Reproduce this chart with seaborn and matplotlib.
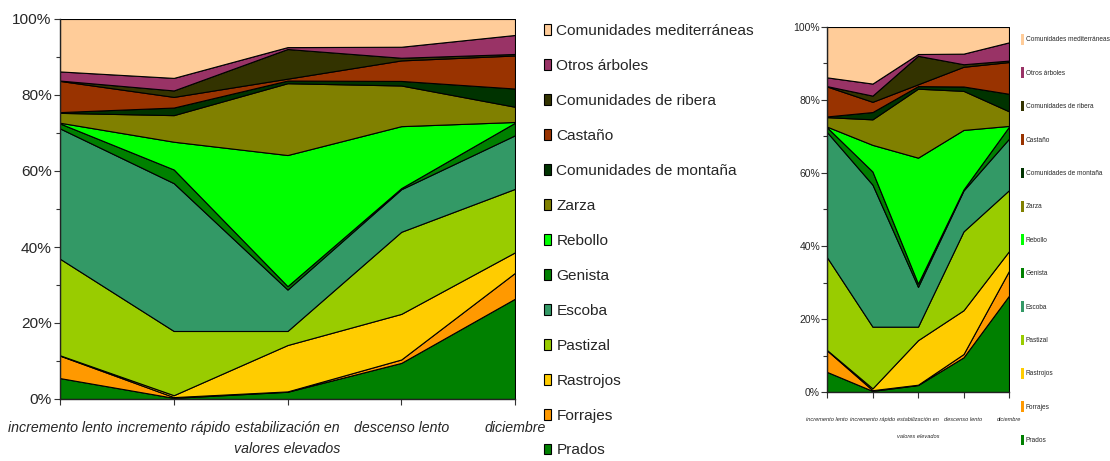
import numpy as np
import matplotlib
matplotlib.use("Agg")
import matplotlib.pyplot as plt
from matplotlib.patches import Patch
from matplotlib.ticker import PercentFormatter, MultipleLocator
from matplotlib import font_manager
import seaborn as sns

# Datos (% de superficie por periodo)
periodos = ["incremento lento", "incremento rápido", "estabilización en\nvalores elevados",
            "descenso lento", "diciembre"]
cubiertas = ["Prados", "Forrajes", "Rastrojos", "Pastizal", "Escoba", "Genista", "Rebollo",
             "Zarza", "Comunidades de montaña", "Castaño", "Comunidades de ribera",
             "Otros árboles", "Comunidades mediterráneas"]

prados = [5.5, 0.3, 1.9, 9.5, 26.4]
forrajes = [5.9, 0.2, 0.1, 0.9, 6.8]
rastrojos = [0.1, 0.5, 12.2, 12.0, 5.4]
pastizal = [25.4, 16.9, 3.7, 21.6, 16.7]
escoba = [34.3, 38.9, 10.9, 11.2, 14.1]
genista = [1.3, 3.6, 0.9, 0.3, 3.3]
rebollo = [0.2, 7.3, 34.5, 16.3, 0.2]
zarza = [2.6, 7.0, 18.9, 10.7, 4.0]
montana = [0.2, 2.0, 0.7, 1.2, 4.8]
castano = [8.2, 2.8, 0.5, 5.4, 8.7]
ribera = [0.1, 1.7, 7.8, 0.7, 0.4]
otros = [2.4, 3.3, 0.5, 2.9, 5.0]
mediterraneas = [13.8, 15.5, 7.4, 7.3, 4.2]

colores = ["#008000", "#FF9900", "#FFCC00", "#99CC00", "#339966", "#008000", "#00FF00",
           "#808000", "#003300", "#993300", "#333300", "#993366", "#FFCC99"]

series = [prados, forrajes, rastrojos, pastizal, escoba, genista, rebollo, zarza,
          montana, castano, ribera, otros, mediterraneas]

sns.set_theme(style="white")

nombres = {f.name for f in font_manager.fontManager.ttflist}
if "Liberation Sans Narrow" in nombres:
    fuente, esc = "Liberation Sans Narrow", 1.0
else:
    fuente, esc = "Liberation Sans", 0.85
plt.rcParams["font.family"] = [fuente, "DejaVu Sans"]

fig = plt.figure(figsize=(11.1, 4.61), dpi=100)
W, H = 1110, 461


def eje(x0, y0, x1, y1):
    return fig.add_axes([x0 / W, 1 - y1 / H, (x1 - x0) / W, (y1 - y0) / H])


def dibujar(ax, fs_y, fs_x, pad_x, interlinea, pad_y):
    x = np.arange(len(periodos))
    ax.stackplot(x, *series, colors=colores, edgecolor="black", linewidth=0.8)
    ax.set_xlim(0, len(periodos) - 1)
    ax.set_ylim(0, 100)
    ax.set_xticks(x)
    ax.set_xticklabels(periodos, fontstyle="italic", fontsize=fs_x, linespacing=interlinea)
    ax.yaxis.set_major_locator(MultipleLocator(20))
    ax.yaxis.set_minor_locator(MultipleLocator(10))
    ax.yaxis.set_major_formatter(PercentFormatter(decimals=0))
    ax.tick_params(axis="y", which="major", direction="out", length=4, width=0.8,
                   labelsize=fs_y, pad=pad_y, left=True, color="#333333")
    ax.tick_params(axis="y", which="minor", direction="out", length=3, width=0.8,
                   left=True, color="#333333")
    ax.tick_params(axis="x", direction="out", length=4, width=0.8, pad=pad_x,
                   bottom=True, color="#333333")
    for s in ["top", "right"]:
        ax.spines[s].set_visible(False)
    for s in ["left", "bottom"]:
        ax.spines[s].set_color("#222222")
        ax.spines[s].set_linewidth(1.0)
    ax.set_facecolor("white")


# Grafico principal
ax1 = eje(60, 19, 515, 399)
dibujar(ax1, 13 * esc, 12 * esc, 12, 1.6, 2)

fs = 13 * esc
fs_px = fs * 100 / 72
manijas = [Patch(facecolor=c, edgecolor="black", linewidth=0.8) for c in colores[::-1]]
fig.legend(manijas, cubiertas[::-1], loc="upper left",
           bbox_to_anchor=(544 / W, 1 - 24 / H), frameon=False, fontsize=fs,
           handlelength=0.45, handleheight=0.7, handletextpad=0.35,
           labelspacing=(35 - fs_px) / fs_px + 0.085, borderpad=0, borderaxespad=0)

# Grafico pequeno (copia comprimida)
ax2 = eje(827, 27, 1009, 392)
dibujar(ax2, 7.5, 4.1, 14, 3.9, 1)

fs2 = 4.7
fs2_px = fs2 * 100 / 72
manijas2 = [Patch(facecolor=c, edgecolor="none") for c in colores[::-1]]
fig.legend(manijas2, cubiertas[::-1], loc="upper left",
           bbox_to_anchor=(1021 / W, 1 - 34 / H), frameon=False, fontsize=fs2,
           handlelength=0.45, handleheight=2.1, handletextpad=0.3,
           labelspacing=(33.4 - 2.1 * fs2_px) / fs2_px + 0.49, borderpad=0, borderaxespad=0)

fig.savefig("out.png", dpi=100, facecolor="white")
